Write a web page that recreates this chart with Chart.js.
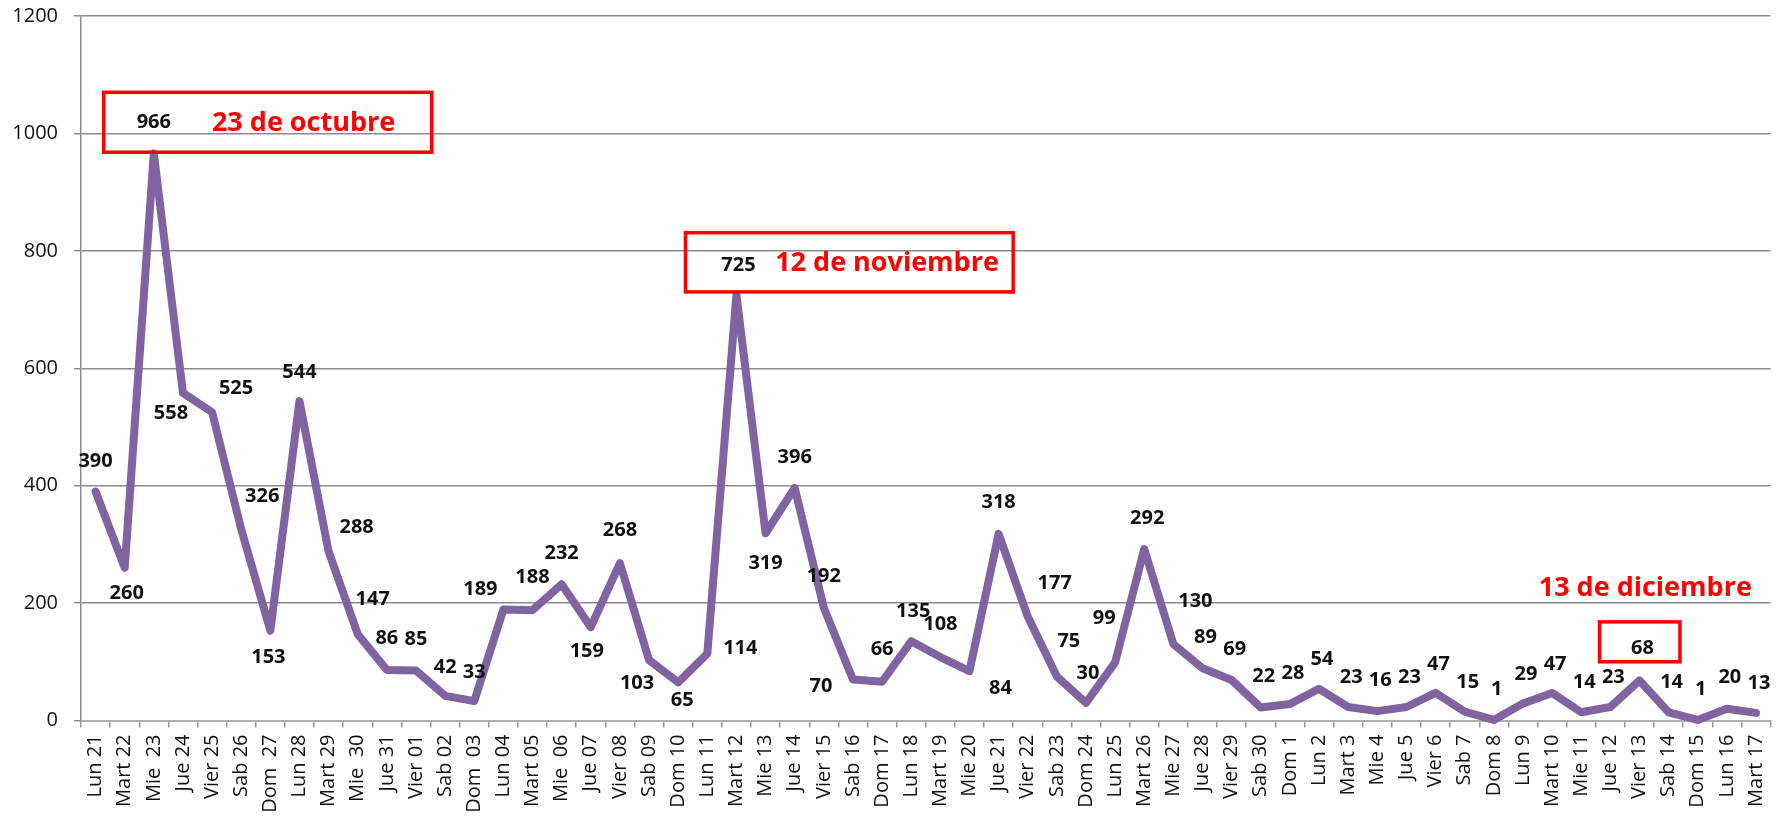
<!DOCTYPE html>
<html>
<head>
<meta charset="utf-8">
<script src="https://cdn.jsdelivr.net/npm/chart.js@4.4.1/dist/chart.umd.min.js"></script>
<style>
  html, body { margin: 0; padding: 0; background: #fff; overflow: hidden; }
</style>
</head>
<body>
<canvas id="lineChart" width="1787" height="819"></canvas>
<script>
const days = ['Lun 21', 'Mart 22', 'Mie  23', 'Jue 24', 'Vier 25', 'Sab 26', 'Dom  27', 'Lun 28', 'Mart 29', 'Mie  30',
  'Jue 31', 'Vier 01', 'Sab 02', 'Dom  03', 'Lun 04', 'Mart 05', 'Mie  06', 'Jue 07', 'Vier 08', 'Sab 09',
  'Dom 10', 'Lun 11', 'Mart 12', 'Mie 13', 'Jue 14', 'Vier 15', 'Sab 16', 'Dom 17', 'Lun 18', 'Mart 19',
  'Mie 20', 'Jue 21', 'Vier 22', 'Sab 23', 'Dom 24', 'Lun 25', 'Mart 26', 'Mie 27', 'Jue 28', 'Vier 29',
  'Sab 30', 'Dom 1', 'Lun 2', 'Mart 3', 'Mie 4', 'Jue 5', 'Vier 6', 'Sab 7', 'Dom 8', 'Lun 9',
  'Mart 10', 'Mie 11', 'Jue 12', 'Vier 13', 'Sab 14', 'Dom 15', 'Lun 16', 'Mart 17'];

const visits = [390, 260, 966, 558, 525, 326, 153, 544, 288, 147,
  86, 85, 42, 33, 189, 188, 232, 159, 268, 103,
  65, 114, 725, 319, 396, 192, 70, 66, 135, 108,
  84, 318, 177, 75, 30, 99, 292, 130, 89, 69,
  22, 28, 54, 23, 16, 23, 47, 15, 1, 29,
  47, 14, 23, 68, 14, 1, 20, 13];

const yTicks = [0, 200, 400, 600, 800, 1000, 1200];

// where each value label sits relative to its point (px)
const labelOffsets = [
  [0, -30], [2, 25], [0, -31], [-12, 20], [24, -24], [21, -33], [-2, 27], [0, -29], [28, -24], [15, -35],
  [0, -32], [0, -31], [0, -29], [0, -29], [-23, -20], [0, -33], [0, -31], [-4, 24], [0, -33], [-12, 23],
  [4, 18], [33, -5], [2, -30], [0, 30], [0, -31], [0, -31], [-32, 7], [0, -32], [2, -30], [0, -33],
  [31, 17], [0, -32], [27, -33], [12, -35], [2, -30], [-11, -44], [3, -31], [22, -43], [3, -31], [3, -31],
  [3, -31], [3, -31], [3, -30], [3, -30], [3, -31], [3, -30], [3, -29], [3, -29], [3, -31], [3, -29],
  [3, -29], [3, -30], [3, -30], [3, -32], [3, -30], [3, -31], [3, -31], [3, -30]
];

// red callouts, in category index / value units
const callouts = [
  { text: '23 de octubre', box: [0.28, 11.54, 968, 1070], at: [7.14, 1017] },
  { text: '12 de noviembre', box: [20.25, 31.5, 730, 831], at: [27.17, 779] },
  { text: '13 de diciembre', box: [51.63, 54.39, 100, 168], at: [53.2, 225] }
];

const labelsPlugin = {
  id: 'pointLabels',
  afterDatasetsDraw(chart) {
    const ctx = chart.ctx;
    const xs = chart.scales.x, ys = chart.scales.y;
    ctx.save();
    ctx.strokeStyle = '#ff0000';
    ctx.lineWidth = 3.5;
    callouts.forEach(c => {
      const x0 = xs.getPixelForValue(c.box[0]), x1 = xs.getPixelForValue(c.box[1]);
      const y0 = ys.getPixelForValue(c.box[3]), y1 = ys.getPixelForValue(c.box[2]);
      ctx.strokeRect(x0, y0, x1 - x0, y1 - y0);
    });
    ctx.font = 'bold 20px "Open Sans"';
    ctx.fillStyle = '#111';
    ctx.textAlign = 'center';
    ctx.textBaseline = 'middle';
    chart.getDatasetMeta(0).data.forEach((pt, i) => {
      const [dx, dy] = labelOffsets[i];
      ctx.fillText(String(visits[i]), pt.x + dx, pt.y + dy);
    });
    ctx.font = 'bold 27px "Open Sans"';
    ctx.fillStyle = '#ff0000';
    callouts.forEach(c => {
      ctx.fillText(c.text, xs.getPixelForValue(c.at[0]), ys.getPixelForValue(c.at[1]));
    });
    ctx.restore();
  }
};

new Chart(document.getElementById('lineChart'), {
  type: 'line',
  data: {
    labels: days,
    datasets: [{
      data: visits,
      borderColor: '#8064a2',
      borderWidth: 8,
      pointRadius: 0,
      tension: 0,
      clip: false
    }]
  },
  options: {
    responsive: false,
    animation: false,
    layout: { padding: { top: 16, right: 1, left: 0, bottom: 0 } },
    plugins: {
      legend: { display: false },
      tooltip: { enabled: false }
    },
    elements: {
      line: { borderJoinStyle: 'round', borderCapStyle: 'round' }
    },
    scales: {
      x: {
        offset: true,
        grid: { offset: true, drawOnChartArea: false, tickLength: 7, color: '#9a9a9a', lineWidth: 1.5 },
        border: { color: '#b0b0b0', width: 2 },
        ticks: {
          autoSkip: false, maxRotation: 90, minRotation: 90, padding: 7,
          color: '#111', font: { family: 'Open Sans', size: 20 }
        },
        afterFit(scale) { scale.height = 98.5; }
      },
      y: {
        min: 0,
        max: 1200,
        afterBuildTicks(scale) { scale.ticks = yTicks.map(v => ({ value: v })); },
        ticks: {
          padding: 16, color: '#111', font: { family: 'Open Sans', size: 20 },
          callback: v => String(v)
        },
        grid: { color: '#8c8c8c', lineWidth: 1.5, tickLength: 7 },
        border: { color: '#8c8c8c', width: 1.5 },
        afterFit(scale) {
          scale.width = 81;
          scale.paddingTop = 0;
          scale.paddingBottom = 0;
        }
      }
    }
  },
  plugins: [labelsPlugin]
});
</script>
</body>
</html>
